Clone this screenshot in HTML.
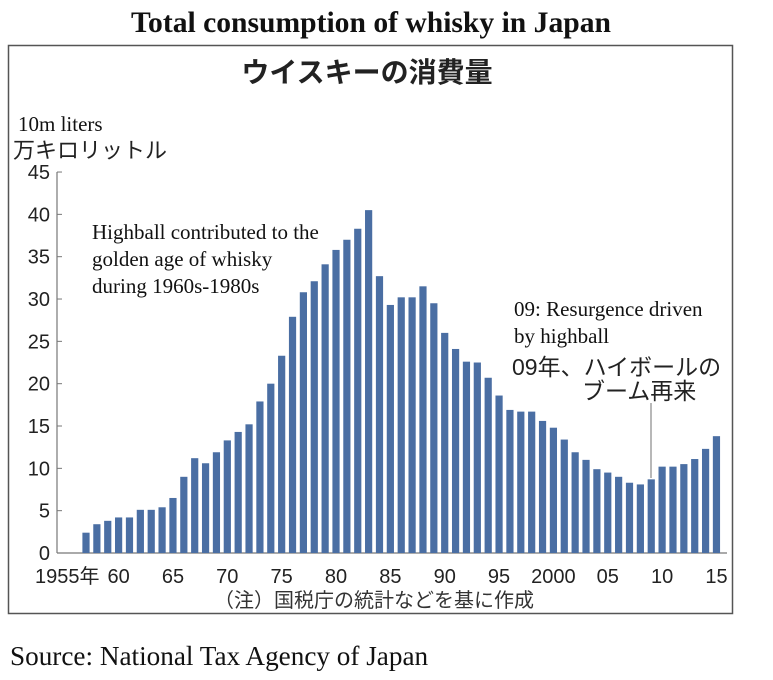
<!DOCTYPE html>
<html><head><meta charset="utf-8"><style>
body{margin:0;background:#fff;width:773px;height:680px;overflow:hidden;position:relative}
</style></head><body>
<svg width="773" height="680" style="position:absolute;left:0;top:0">
<text x="371" y="32" text-anchor="middle" font-family="Liberation Serif, serif" font-weight="bold" font-size="29.6" fill="#111">Total consumption of whisky in Japan</text>
<rect x="8.5" y="45.5" width="724" height="568" fill="none" stroke="#555" stroke-width="1.5"/>
<text x="367" y="82" text-anchor="middle" font-family="Liberation Sans, Noto Sans CJK JP, sans-serif" font-weight="bold" font-size="28" fill="#222">ウイスキーの消費量</text>
<text x="18" y="131" font-family="Liberation Serif, serif" font-size="21" fill="#111">10m liters</text>
<text x="13" y="158" font-family="Liberation Sans, Noto Sans CJK JP, sans-serif" font-size="22" fill="#222">万キロリットル</text>
<g id="axes"></g>
<g id="bars"></g>
<text x="92" y="239" font-family="Liberation Serif, serif" font-size="21" fill="#111"><tspan x="92">Highball contributed to the</tspan><tspan x="92" dy="27">golden age of whisky</tspan><tspan x="92" dy="27">during 1960s-1980s</tspan></text>
<text x="514" y="316" font-family="Liberation Serif, serif" font-size="21" fill="#111"><tspan x="514">09: Resurgence driven</tspan><tspan x="514" dy="27">by highball</tspan></text>
<text x="512" y="375" font-family="Liberation Sans, Noto Sans CJK JP, sans-serif" font-size="23" fill="#222">09年、ハイボールの</text>
<text x="582" y="399" font-family="Liberation Sans, Noto Sans CJK JP, sans-serif" font-size="23" fill="#222">ブーム再来</text>
<line x1="651" y1="403" x2="651" y2="478" stroke="#888" stroke-width="1.2"/>
<text x="374" y="607" text-anchor="middle" font-family="Liberation Sans, Noto Sans CJK JP, sans-serif" font-size="20" fill="#333">（注）国税庁の統計などを基に作成</text>
<text x="10" y="665" font-family="Liberation Serif, serif" font-size="27.2" fill="#111">Source: National Tax Agency of Japan</text>
</svg>
<script>
const years=[1957,1958,1959,1960,1961,1962,1963,1964,1965,1966,1967,1968,1969,1970,1971,1972,1973,1974,1975,1976,1977,1978,1979,1980,1981,1982,1983,1984,1985,1986,1987,1988,1989,1990,1991,1992,1993,1994,1995,1996,1997,1998,1999,2000,2001,2002,2003,2004,2005,2006,2007,2008,2009,2010,2011,2012,2013,2014,2015];
const consumption=[2.4,3.4,3.8,4.2,4.2,5.1,5.1,5.4,6.5,9.0,11.2,10.6,11.9,13.3,14.3,15.2,17.9,20.0,23.3,27.9,30.8,32.1,34.1,35.8,37.0,38.3,40.5,32.7,29.3,30.2,30.2,31.5,29.5,26.0,24.1,22.6,22.5,20.7,18.6,16.9,16.7,16.7,15.6,14.8,13.4,11.9,11.0,9.9,9.5,9.0,8.3,8.1,8.7,10.2,10.2,10.5,11.1,12.3,13.8];
const yTicks=[0,5,10,15,20,25,30,35,40,45];
const xTickYears=[1955,1960,1965,1970,1975,1980,1985,1990,1995,2000,2005,2010,2015];
const xTickLabels=["1955年","60","65","70","75","80","85","90","95","2000","05","10","15"];
const NS="http://www.w3.org/2000/svg";
const x=yr=>86+(yr-1957)*10.87;
const y=v=>553-v*8.466;
const axes=document.getElementById('axes'), bars=document.getElementById('bars');
function mk(tag,attrs,parent,txt){const e=document.createElementNS(NS,tag);for(const k in attrs)e.setAttribute(k,attrs[k]);if(txt!==undefined)e.textContent=txt;parent.appendChild(e);return e;}
let a=mk('line',{x1:57,y1:y(45),x2:57,y2:553,stroke:'#777','stroke-width':1.2},axes);


let b=mk('line',{x1:57,y1:553,x2:727,y2:553,stroke:'#777','stroke-width':1.2},axes);


yTicks.forEach(t=>{
 const tk=mk('line',{x1:57,y1:y(t),x2:62,y2:y(t),stroke:'#777'},axes);
 
 
 const l=mk('text',{x:50,y:y(t)+7,'text-anchor':'end','font-family':'Liberation Sans, sans-serif','font-size':20,fill:'#222'},axes,String(t));
 
 
});
xTickYears.forEach((yr,i)=>{
 const l=mk('text',{x:x(yr)-(i===0?-3:0),y:583,'text-anchor':'middle','font-family':'Liberation Sans, Noto Sans CJK JP, sans-serif','font-size':20,fill:'#222'},axes,xTickLabels[i]);
 
 
});
years.forEach((yr,i)=>{
 const v=consumption[i];
 const r=mk('rect',{x:x(yr)-3.6,y:y(v),width:7.2,height:553-y(v),fill:'#4a6ea3'},bars);
 
 
});
</script>
</body></html>
